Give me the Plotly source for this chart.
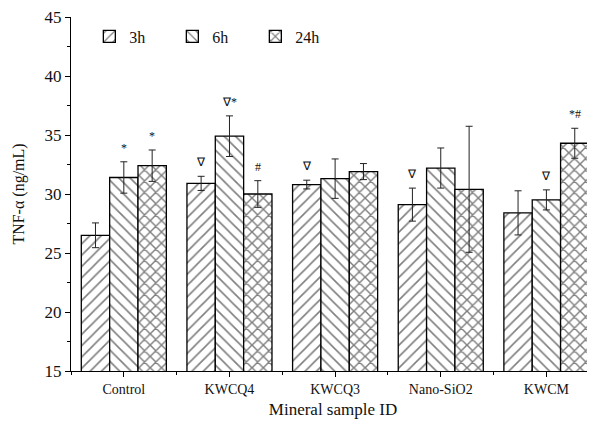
import plotly.graph_objects as go

categories = ["Control", "KWCQ4", "KWCQ3", "Nano-SiO2", "KWCM"]
series_names = ["3h", "6h", "24h"]
vals_3h = [26.5, 30.9, 30.8, 29.1, 28.4]
vals_6h = [31.4, 34.9, 31.3, 32.2, 29.5]
vals_24h = [32.4, 30.0, 31.9, 30.4, 34.3]
err_3h = [1.05, 0.6, 0.37, 1.4, 1.87]
err_6h = [1.33, 1.72, 1.67, 1.7, 0.85]
err_24h = [1.33, 1.13, 0.68, 5.34, 1.27]
marks_3h = ["", "∇", "∇", "∇", ""]
marks_6h = ["*", "∇*", "", "", "∇"]
marks_24h = ["*", "#", "", "", "*#"]

values = [vals_3h, vals_6h, vals_24h]
errors = [err_3h, err_6h, err_24h]
marks = [marks_3h, marks_6h, marks_24h]
patterns = ["/", "\\", "x"]
solidities = [0.2, 0.2, 0.33]

FONT = "Liberation Serif"
xpos = list(range(1, len(categories) + 1))
bargap = 0.195
bw = (1 - bargap) / 3

fig = go.Figure()
for i, name in enumerate(series_names):
    fig.add_trace(go.Bar(
        name=name, x=xpos, y=values[i],
        marker=dict(color="white",
                    line=dict(color="black", width=1.3),
                    pattern=dict(shape=patterns[i], fgcolor="black", bgcolor="white",
                                 size=8, solidity=solidities[i])),
        error_y=dict(type="data", array=errors[i], color="#222", thickness=1, width=3.5),
    ))

annotations = []
for i in range(3):
    off = (i - 1) * bw
    for j, m in enumerate(marks[i]):
        if m:
            annotations.append(dict(
                x=xpos[j] + off, y=values[i][j] + errors[i][j], xref="x", yref="y",
                text=m, showarrow=False, yanchor="bottom", yshift=5,
                font=dict(family=FONT, size=12, color="#111")))

# page body has an 8px margin, so the figure is drawn 8px smaller and margins shifted
fig.update_layout(
    width=587, height=419,
    margin=dict(l=63, r=0, t=9, b=56),
    paper_bgcolor="white", plot_bgcolor="white",
    barmode="group", bargap=bargap, bargroupgap=0,
    font=dict(family=FONT, color="#111"),
    showlegend=True,
    legend=dict(orientation="h", x=0.035, y=0.945, xanchor="left", yanchor="middle",
                font=dict(family=FONT, size=16), bgcolor="rgba(0,0,0,0)",
                itemwidth=30, entrywidth=38, traceorder="normal"),
    annotations=annotations,
    xaxis=dict(range=[0.5, 5.46], tickvals=xpos, ticktext=categories, automargin=False,
               showline=True, linecolor="black", linewidth=1.2,
               ticks="outside", ticklen=5, tickcolor="black",
               minor=dict(tickvals=[0.5, 1.5, 2.5, 3.5, 4.5], ticks="outside", ticklen=3, tickcolor="black"),
               showgrid=False, zeroline=False,
               tickfont=dict(family=FONT, size=14),
               title=dict(text="Mineral sample ID", font=dict(family=FONT, size=17), standoff=7)),
    yaxis=dict(range=[15, 45], tickvals=[15, 20, 25, 30, 35, 40, 45], automargin=False,
               ticklabeloverflow="allow",
               showline=True, linecolor="black", linewidth=1.2,
               ticks="outside", ticklen=5, tickcolor="black",
               minor=dict(dtick=2.5, tick0=15, ticks="outside", ticklen=3, tickcolor="black"),
               showgrid=False, zeroline=False,
               tickfont=dict(family=FONT, size=17),
               title=dict(text="TNF-α (ng/mL)", font=dict(family=FONT, size=16))),
)

fig.write_html("out.html")
